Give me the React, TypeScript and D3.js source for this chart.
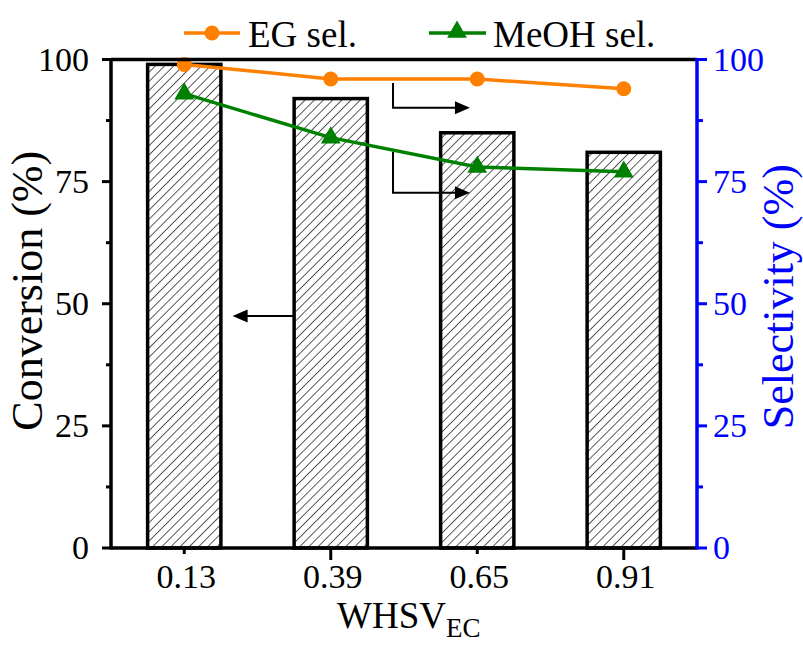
import React from "react";
import * as d3 from "d3";

const categories = ["0.13", "0.39", "0.65", "0.91"];
const conversion = [99, 92, 85, 81];
const egSel = [99, 96, 96, 94];
const meohSel = [93, 84, 78, 77];
const yTicks = [0, 25, 50, 75, 100];
const yMinorTicks = [12.5, 37.5, 62.5, 87.5];

// annotation arrows in data units (x = category index, y = %)
const arrowLeft = { x1: 0.75, x2: 0.33, y: 47.5 };
const arrowEG = { x: 1.425, yTop: 95.2, yBot: 90.1, xTip: 1.95 };
const arrowMeOH = { x: 1.425, yTop: 81.1, yBot: 72.7, xTip: 1.95 };

const W = 803;
const H = 645;
const L = 111;
const R = 697;
const T = 59.5;
const B = 548;
const ORANGE = "#FF8000";
const GREEN = "#008000";
const BLUE = "#0000FF";
const FONT = '"Liberation Serif"';

export default function App() {
  const x = d3.scaleBand<string>().domain(categories).range([L, R]).paddingInner(0.5).paddingOuter(0.25);
  const xc = (c: string) => (x(c) as number) + x.bandwidth() / 2;
  const xi = d3.scaleLinear().domain([-0.5, 3.5]).range([L, R]);
  const y = d3.scaleLinear().domain([0, 100]).range([B, T]);

  const line = d3
    .line<number>()
    .x((_, i) => xc(categories[i]))
    .y((d) => y(d));

  const tri = d3.symbol().type(d3.symbolTriangle).size(170)();

  const arrowHead = (tx: number, ty: number, dir: number, len = 15, half = 6.5) =>
    `M${tx},${ty} L${tx - dir * len},${ty - half} L${tx - dir * len},${ty + half} Z`;

  const elbow = (a: { x: number; yTop: number; yBot: number; xTip: number }) => {
    const px = xi(a.x);
    const pt = y(a.yTop);
    const pb = y(a.yBot);
    const tip = xi(a.xTip);
    return (
      <g>
        <path d={`M${px},${pt} V${pb} H${tip - 12}`} fill="none" stroke="#000" strokeWidth={2} />
        <path d={arrowHead(tip, pb, 1)} fill="#000" />
      </g>
    );
  };

  const ts = { fontFamily: FONT };

  return (
    <svg width={W} height={H} style={{ position: "absolute", left: 0, top: 0, background: "#fff" }}>
      <defs>
        <pattern id="hatch" width={6.5} height={6.5} patternUnits="userSpaceOnUse" patternTransform="rotate(45)">
          <line x1={0} y1={0} x2={0} y2={6.5} stroke="#000" strokeWidth={1.3} />
        </pattern>
      </defs>
      <rect x={0} y={0} width={W} height={H} fill="#fff" />

      {/* bars */}
      {conversion.map((v, i) => (
        <rect
          key={i}
          x={x(categories[i])}
          y={y(v)}
          width={x.bandwidth()}
          height={B - y(v)}
          fill="url(#hatch)"
          stroke="#000"
          strokeWidth={3.5}
        />
      ))}

      {/* arrows */}
      <g>
        <line x1={xi(arrowLeft.x1)} x2={xi(arrowLeft.x2) + 12} y1={y(arrowLeft.y)} y2={y(arrowLeft.y)} stroke="#000" strokeWidth={2} />
        <path d={arrowHead(xi(arrowLeft.x2), y(arrowLeft.y), -1)} fill="#000" />
      </g>
      {elbow(arrowEG)}
      {elbow(arrowMeOH)}

      {/* lines */}
      <path d={line(egSel) || ""} fill="none" stroke={ORANGE} strokeWidth={3.5} />
      <path d={line(meohSel) || ""} fill="none" stroke={GREEN} strokeWidth={3.5} />
      {egSel.map((v, i) => (
        <circle key={i} cx={xc(categories[i])} cy={y(v)} r={7.5} fill={ORANGE} />
      ))}
      {meohSel.map((v, i) => (
        <path key={i} d={tri || ""} transform={`translate(${xc(categories[i])},${y(v)})`} fill={GREEN} />
      ))}

      {/* axes frame */}
      <line x1={L} x2={R} y1={T} y2={T} stroke="#000" strokeWidth={3.5} />
      <line x1={L} x2={R} y1={B} y2={B} stroke="#000" strokeWidth={3.5} />
      <line x1={L} x2={L} y1={T - 1.5} y2={B + 1.5} stroke="#000" strokeWidth={3.5} />
      <line x1={R} x2={R} y1={T - 1.5} y2={B + 1.5} stroke={BLUE} strokeWidth={3.5} />

      {/* left axis ticks */}
      {yTicks.map((t) => (
        <g key={t}>
          <line x1={L - 9} x2={L} y1={y(t)} y2={y(t)} stroke="#000" strokeWidth={3} />
          <text x={L - 22} y={y(t) + 11} textAnchor="end" fontSize={34} fill="#000" style={ts}>
            {t}
          </text>
        </g>
      ))}
      {yMinorTicks.map((t) => (
        <line key={t} x1={L - 5} x2={L} y1={y(t)} y2={y(t)} stroke="#000" strokeWidth={3} />
      ))}

      {/* right axis ticks */}
      {yTicks.map((t) => (
        <g key={t}>
          <line x1={R} x2={R + 10} y1={y(t)} y2={y(t)} stroke={BLUE} strokeWidth={3} />
          <text x={R + 16} y={y(t) + 11} textAnchor="start" fontSize={34} fill={BLUE} style={ts}>
            {t}
          </text>
        </g>
      ))}
      {yMinorTicks.map((t) => (
        <line key={t} x1={R} x2={R + 6} y1={y(t)} y2={y(t)} stroke={BLUE} strokeWidth={3} />
      ))}

      {/* bottom ticks */}
      {categories.map((c, i) => (
        <g key={c}>
          <line x1={xc(c)} x2={xc(c)} y1={B} y2={B + (i % 2 === 0 ? 6 : 12)} stroke="#000" strokeWidth={3} />
          <text x={xc(c) + 2} y={588} textAnchor="middle" fontSize={34} fill="#000" style={ts}>
            {c}
          </text>
        </g>
      ))}

      {/* axis titles */}
      <text transform={`translate(42,${(T + B) / 2 - 13}) rotate(-90)`} textAnchor="middle" fontSize={44} fill="#000" style={ts}>
        Conversion (%)
      </text>
      <text transform={`translate(793,${(T + B) / 2 - 7}) rotate(-90)`} textAnchor="middle" fontSize={44} fill={BLUE} style={ts}>
        Selectivity (%)
      </text>
      <text x={337} y={628} fontSize={37} fill="#000" style={ts}>
        WHSV
        <tspan fontSize={27} dy={9}>
          EC
        </tspan>
      </text>

      {/* legend */}
      <g>
        <line x1={184} x2={240} y1={33} y2={33} stroke={ORANGE} strokeWidth={3.5} />
        <circle cx={212} cy={33} r={7.5} fill={ORANGE} />
        <text x={248} y={47} fontSize={37} fill="#000" style={ts}>
          EG sel.
        </text>
        <line x1={429} x2={486} y1={33} y2={33} stroke={GREEN} strokeWidth={3.5} />
        <path d={tri || ""} transform="translate(457,32)" fill={GREEN} />
        <text x={493} y={47} fontSize={37} fill="#000" style={ts}>
          MeOH sel.
        </text>
      </g>
    </svg>
  );
}
